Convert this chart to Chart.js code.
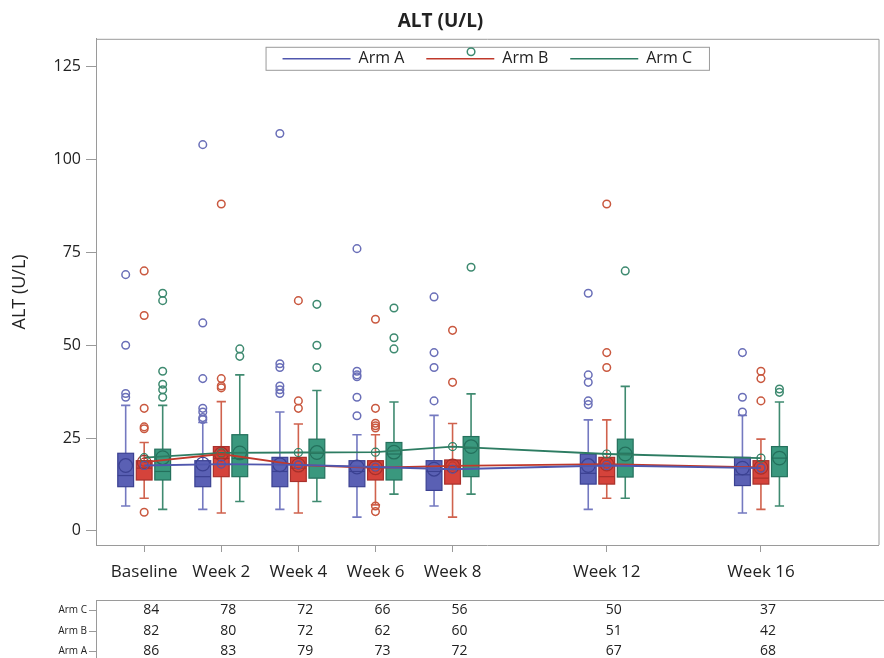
<!DOCTYPE html>
<html>
<head>
<meta charset="utf-8">
<script src="https://cdn.jsdelivr.net/npm/chart.js@4.4.0/dist/chart.umd.min.js"></script>
<style>
  html, body { margin: 0; padding: 0; background: #fff; }
</style>
</head>
<body>
<canvas id="alt" width="884" height="658"></canvas>
<script>
// visits and the week they sit on
const visits = ['Baseline', 'Week 2', 'Week 4', 'Week 6', 'Week 8', 'Week 12', 'Week 16'];
const weeks = [0, 2, 4, 6, 8, 12, 16];
const yTicks = [0, 25, 50, 75, 100, 125];

// Arm A
const armAMin = [6.7, 5.8, 5.8, 3.7, 6.7, 5.8, 4.8];
const armAQ1 = [11.9, 11.9, 11.9, 11.9, 10.9, 12.6, 12.2];
const armAMedian = [14.9, 14.6, 16, 16, 16, 15.5, 15.1];
const armAQ3 = [20.9, 18.9, 19.8, 18.9, 18.9, 20.7, 19.8];
const armAMax = [33.8, 29.2, 32, 25.9, 31.1, 29.9, 31.1];
const armAMean = [17.6, 18, 17.8, 17.2, 16.6, 17.6, 16.9];
const armAOutliers = [
  [69, 50, 37, 36],
  [104, 56, 41, 33, 32, 30.5, 30],
  [107, 45, 44, 39, 38, 37],
  [76, 43, 42, 41.5, 36, 31],
  [63, 48, 44, 35],
  [64, 42, 40, 35, 34],
  [48, 36, 32]
];
const armACount = [86, 83, 79, 73, 72, 67, 68];

// Arm B
const armBMin = [8.8, 4.8, 4.8, 7, 3.7, 8.8, 5.8];
const armBQ1 = [13.7, 14.6, 13.3, 13.7, 12.6, 12.6, 12.6];
const armBMedian = [16.9, 19.5, 16.9, 16.9, 17.3, 14.6, 14.2];
const armBQ3 = [18.9, 22.7, 19.8, 18.9, 19.1, 19.8, 18.9];
const armBMax = [23.8, 34.8, 28.8, 25.9, 28.9, 29.9, 24.7];
const armBMean = [18.5, 20.7, 17.7, 17, 17.5, 18, 17.1];
const armBOutliers = [
  [70, 58, 33, 28, 27.5, 5],
  [88, 41, 39, 38.5],
  [62, 35, 33],
  [57, 33, 29, 28.3, 27.7, 6.7, 5.2],
  [54, 40],
  [88, 48, 44],
  [43, 41, 35]
];
const armBCount = [82, 80, 72, 62, 60, 51, 42];

// Arm C
const armCMin = [5.8, 7.9, 7.9, 9.9, 9.9, 8.8, 6.7];
const armCQ1 = [13.7, 14.6, 14.2, 13.7, 14.6, 14.5, 14.6];
const armCMedian = [16, 19.5, 20.9, 20.7, 22.3, 20.9, 19.6];
const armCQ3 = [22, 25.9, 24.7, 23.8, 25.4, 24.7, 22.7];
const armCMax = [33.8, 42, 37.8, 34.7, 36.9, 38.9, 34.7];
const armCMean = [19.7, 21, 21.1, 21.2, 22.7, 20.7, 19.6];
const armCOutliers = [
  [64, 62, 43, 39.5, 38, 36],
  [49, 47],
  [61, 50, 44],
  [60, 52, 49],
  [129, 71],
  [70],
  [38.2, 37.3]
];
const armCCount = [84, 78, 72, 66, 56, 50, 37];

const FONT = "'Open Sans', 'Liberation Sans', sans-serif";

const arms = [
  { name: 'Arm A', min: armAMin, q1: armAQ1, med: armAMedian, q3: armAQ3, max: armAMax, mean: armAMean, out: armAOutliers, n: armACount,
    fill: '#5a60b4', edge: '#3b4192', whisker: '#7479c0', line: '#5057ae', dot: '#6a6fb8', offset: -0.48 },
  { name: 'Arm B', min: armBMin, q1: armBQ1, med: armBMedian, q3: armBQ3, max: armBMax, mean: armBMean, out: armBOutliers, n: armBCount,
    fill: '#d5433b', edge: '#a8302b', whisker: '#d0624d', line: '#c0392b', dot: '#c9583f', offset: 0 },
  { name: 'Arm C', min: armCMin, q1: armCQ1, med: armCMedian, q3: armCQ3, max: armCMax, mean: armCMean, out: armCOutliers, n: armCCount,
    fill: '#3a987e', edge: '#24705c', whisker: '#3f8a70', line: '#2d7c62', dot: '#3e8a70', offset: 0.48 }
];

const BOX_HALF = 0.205;  // weeks
const CAP_HALF = 0.12;

const datasets = [];
arms.forEach(a => {
  datasets.push({
    type: 'scatter',
    label: a.name,
    data: weeks.map((w, i) => ({ x: w, y: a.mean[i] })),
    showLine: true,
    borderColor: a.line,
    borderWidth: 1.8,
    pointRadius: 4,
    pointBorderWidth: 1.2,
    pointBackgroundColor: 'rgba(0,0,0,0)',
    pointBorderColor: a.line
  });
});
arms.forEach(a => {
  datasets.push({
    type: 'scatter',
    label: a.name + ' outliers',
    data: weeks.flatMap((w, i) => a.out[i].map(v => ({ x: w + a.offset, y: v }))),
    pointRadius: 3.8,
    pointBorderWidth: 1.5,
    pointBackgroundColor: 'rgba(0,0,0,0)',
    pointBorderColor: a.dot
  });
});

const boxPlugin = {
  id: 'boxes',
  beforeDatasetsDraw(chart) {
    const { ctx, scales: { x, y }, chartArea } = chart;
    ctx.save();
    arms.forEach(a => {
      weeks.forEach((w, i) => {
        const c = w + a.offset;
        const cx = x.getPixelForValue(c);
        const l = x.getPixelForValue(c - BOX_HALF), r = x.getPixelForValue(c + BOX_HALF);
        const cl = x.getPixelForValue(c - CAP_HALF), cr = x.getPixelForValue(c + CAP_HALF);
        const yMin = y.getPixelForValue(a.min[i]), yMax = y.getPixelForValue(a.max[i]);
        const yQ1 = y.getPixelForValue(a.q1[i]), yQ3 = y.getPixelForValue(a.q3[i]);
        const yMed = y.getPixelForValue(a.med[i]), yMean = y.getPixelForValue(a.mean[i]);
        // whiskers
        ctx.strokeStyle = a.whisker;
        ctx.lineWidth = 1.6;
        ctx.beginPath();
        ctx.moveTo(cx, yQ3); ctx.lineTo(cx, yMax);
        ctx.moveTo(cl, yMax); ctx.lineTo(cr, yMax);
        ctx.moveTo(cx, yQ1); ctx.lineTo(cx, yMin);
        ctx.moveTo(cl, yMin); ctx.lineTo(cr, yMin);
        ctx.stroke();
        // box
        ctx.fillStyle = a.fill;
        ctx.fillRect(l, yQ3, r - l, yQ1 - yQ3);
        ctx.strokeStyle = a.edge;
        ctx.lineWidth = 1.2;
        ctx.strokeRect(l, yQ3, r - l, yQ1 - yQ3);
        ctx.beginPath();
        ctx.moveTo(l, yMed); ctx.lineTo(r, yMed);
        ctx.stroke();
        // mean marker
        ctx.beginPath();
        ctx.arc(cx, yMean, 6.8, 0, Math.PI * 2);
        ctx.stroke();
      });
    });

    // legend box inside the plot
    ctx.font = '16px ' + FONT;
    const lineLen = 68, gap = 8, itemGap = 22, pad = 17;
    const widths = arms.map(a => ctx.measureText(a.name).width);
    const total = widths.reduce((s, w) => s + lineLen + gap + w, 0) + itemGap * (arms.length - 1);
    const boxW = total + pad * 2, boxH = 23;
    const bx = (chartArea.left + chartArea.right) / 2 - boxW / 2;
    const by = chartArea.top + 8;
    ctx.fillStyle = '#fff';
    ctx.fillRect(bx, by, boxW, boxH);
    ctx.strokeStyle = '#9a9a9a';
    ctx.lineWidth = 1;
    ctx.strokeRect(bx + 0.5, by + 0.5, boxW, boxH);
    let px = bx + pad;
    const py = by + boxH / 2 + 0.5;
    ctx.textBaseline = 'middle';
    ctx.textAlign = 'left';
    arms.forEach((a, k) => {
      ctx.strokeStyle = a.line;
      ctx.lineWidth = 1.5;
      ctx.beginPath();
      ctx.moveTo(px, py); ctx.lineTo(px + lineLen, py);
      ctx.stroke();
      px += lineLen + gap;
      ctx.fillStyle = '#222';
      ctx.fillText(a.name, px, py);
      px += widths[k] + itemGap;
    });
    ctx.restore();
  },
  afterDraw(chart) {
    const { ctx, scales: { x }, chartArea, width, height } = chart;
    ctx.save();
    // frame top and right
    ctx.strokeStyle = '#9a9a9a';
    ctx.lineWidth = 1;
    ctx.beginPath();
    ctx.moveTo(chartArea.left, chartArea.top + 0.5);
    ctx.lineTo(chartArea.right + 0.5, chartArea.top + 0.5);
    ctx.lineTo(chartArea.right + 0.5, chartArea.bottom);
    ctx.stroke();

    // counts table under the axis
    const tTop = 600;
    const rowY = [610, 631, 651];
    ctx.beginPath();
    ctx.moveTo(chartArea.left, tTop + 0.5); ctx.lineTo(width, tTop + 0.5);
    ctx.moveTo(chartArea.left + 0.5, tTop); ctx.lineTo(chartArea.left + 0.5, height);
    rowY.forEach(ry => { ctx.moveTo(chartArea.left - 7, ry + 0.5); ctx.lineTo(chartArea.left, ry + 0.5); });
    ctx.stroke();
    ctx.textBaseline = 'middle';
    const rows = [arms[2], arms[1], arms[0]];
    rows.forEach((a, r) => {
      ctx.font = '10px ' + FONT;
      ctx.textAlign = 'right';
      ctx.fillStyle = '#222';
      ctx.fillText(a.name, chartArea.left - 9, rowY[r]);
      ctx.font = '14px ' + FONT;
      ctx.textAlign = 'center';
      weeks.forEach((w, i) => {
        ctx.fillText(String(a.n[i]), x.getPixelForValue(w) + 7, rowY[r]);
      });
    });
    ctx.restore();
  }
};

new Chart(document.getElementById('alt'), {
  type: 'scatter',
  data: { datasets },
  options: {
    responsive: false,
    animation: false,
    layout: { padding: { top: 0, right: 3, bottom: 0, left: 0 } },
    plugins: {
      legend: { display: false },
      tooltip: { enabled: false },
      title: {
        display: true,
        text: 'ALT (U/L)',
        color: '#222',
        font: { family: FONT, size: 19, weight: 'bold' },
        padding: { top: 10, bottom: 6 }
      }
    },
    scales: {
      x: {
        type: 'linear',
        min: -1.25,
        max: 19.05,
        afterBuildTicks: s => { s.ticks = weeks.map(v => ({ value: v })); },
        afterFit: s => { s.height = 113; },
        ticks: {
          autoSkip: false,
          maxRotation: 0,
          padding: 10,
          color: '#222',
          font: { family: FONT, size: 17 },
          callback: v => visits[weeks.indexOf(v)]
        },
        grid: { display: true, drawOnChartArea: false, tickLength: 7, color: '#9a9a9a' },
        border: { color: '#9a9a9a' }
      },
      y: {
        min: -3.8,
        max: 132.5,
        afterBuildTicks: s => { s.ticks = yTicks.map(v => ({ value: v })); },
        afterFit: s => { s.width = 96; },
        ticks: {
          padding: 5,
          color: '#222',
          font: { family: FONT, size: 16 }
        },
        grid: { display: true, drawOnChartArea: false, tickLength: 10, color: '#9a9a9a' },
        border: { color: '#9a9a9a' },
        title: {
          display: true,
          text: 'ALT (U/L)',
          color: '#222',
          font: { family: FONT, size: 18 },
          padding: { top: 9, bottom: 0 }
        }
      }
    }
  },
  plugins: [boxPlugin]
});
</script>
</body>
</html>
